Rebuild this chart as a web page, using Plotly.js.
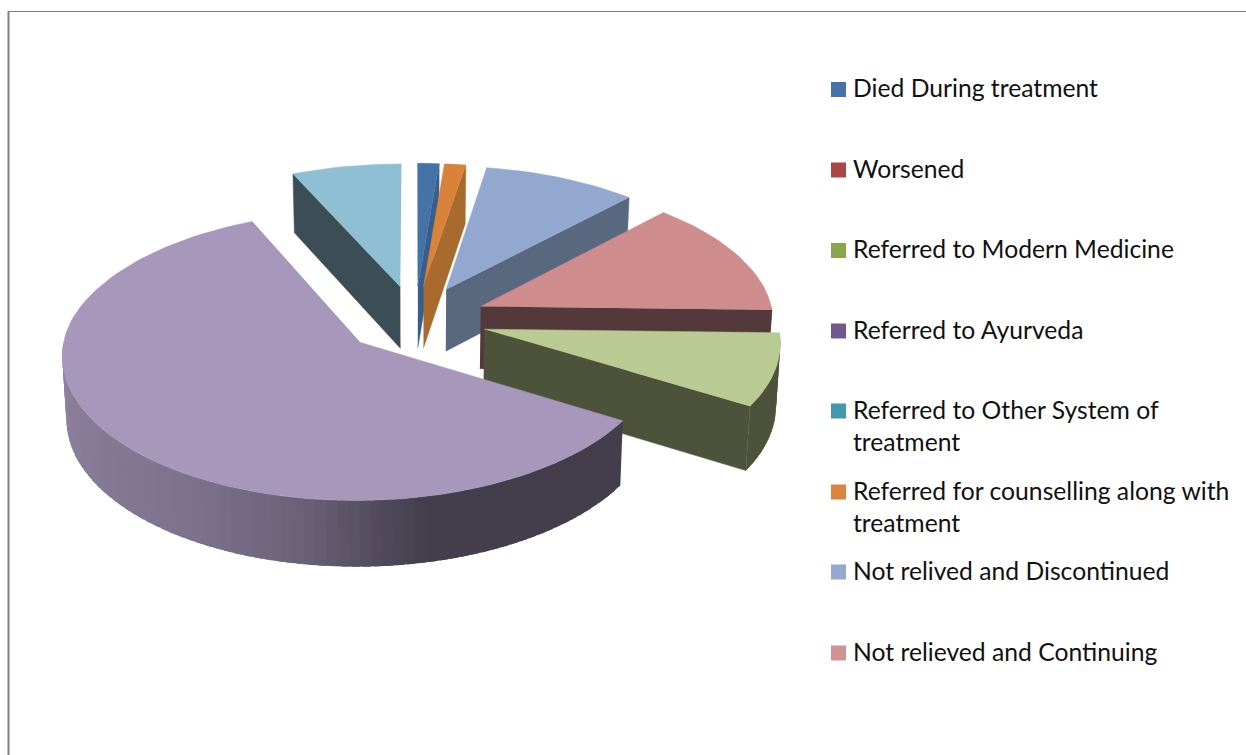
<!DOCTYPE html>
<html>
<head>
<meta charset="utf-8">
<script src="https://cdn.plot.ly/plotly-3.0.1.min.js"></script>
<style>html,body{margin:0;padding:0;background:#fff}</style>
</head>
<body>
<div id="chart" style="width:1246px;height:755px"></div>
<script>
// Data (percent of the pie, clockwise from 12 o'clock)
const categories = ["Died During treatment","Worsened","Referred to Modern Medicine","Referred to Ayurveda",
  "Referred to Other System of<br>treatment","Referred for counselling along with<br>treatment",
  "Not relived and Discontinued","Not relieved and Continuing","(off the picture 1)","(off the picture 2)","(off the picture 3)"];
const values = [1.3,0,0,0,0,1.3,9.4,13.4,8.3,59.6,6.7];
const topColors = ["#4572a7","#aa4643","#89a54e","#71588f","#4198af","#d9833a","#93a8cf","#ce8d8c","#b9cb92","#a697bb","#8fbfd2"];
const sideColors = ["#365e8e","#5a2e2d","#4c533a","#3f3350","#2a5560","#a96a2d","#58687f","#533939","#4c533a","#443e4c","#3c4e55"];
const legendCount = 8;
const legendMarkerColors = ["#4572a7","#aa4643","#89a54e","#71588f","#4198af","#db843d","#93a9cf","#d19392"];
const legendY = [89.5,170,250.5,331,411,492,572,653];
const labelY = [87.5,168.5,248.5,329.5,425.5,506.5,570.5,651.5];

// Projection settings
const cx=415, cy=319.5, a=293, b=139.5, k=0.09, kFront=0.08, depth=62.5, explode=0.245;
const wallStops=[[168,0],[190,0.40],[210,0.58],[270,0.77]];

function P(u,v,z){
  const s=1/(1+k*v), sx=1/(1+(v<0?kFront:k)*v);
  let x=cx+a*u*sx;
  const y=cy-b*v*s+z*depth*(1-0.05*v);
  x+=(cx-x)*0.012*z;
  return [x,y];
}
function hex(c){return [1,3,5].map(i=>parseInt(c.substr(i,2),16));}
function mix(c1,c2,f){const A=hex(c1),B=hex(c2);return "rgb("+A.map((v,i)=>Math.round(v+(B[i]-v)*f)).join(",")+")";}
function wallFrac(t){
  if(t<=wallStops[0][0])return 0;
  for(let i=1;i<wallStops.length;i++){
    if(t<=wallStops[i][0]){
      const p=wallStops[i-1],q=wallStops[i];
      return p[1]+(q[1]-p[1])*(t-p[0])/(q[0]-p[0]);
    }
  }
  return wallStops[wallStops.length-1][1];
}
const rad=d=>d*Math.PI/180;
const traces=[];
function poly(pts,color,name,w){
  traces.push({type:"scatter",mode:"lines",x:pts.map(p=>p[0]),y:pts.map(p=>p[1]),fill:"toself",fillcolor:color,
    line:{color:color,width:w},hoverinfo:"skip",showlegend:false,name:name});
}

const total=values.reduce((p,c)=>p+c,0);
let acc=0;
const slices=[];
values.forEach((val,i)=>{
  const start=acc/total*360; acc+=val; const end=acc/total*360;
  if(val>0) slices.push({i,start,end,mid:(start+end)/2});
});
slices.sort((p,q)=>Math.cos(rad(q.mid))-Math.cos(rad(p.mid)));

slices.forEach(sl=>{
  const top=topColors[sl.i],dark=sideColors[sl.i],name=categories[sl.i];
  const ou=explode*Math.sin(rad(sl.mid)),ov=explode*Math.cos(rad(sl.mid));
  const pt=(t,z,r=1)=>P(ou+r*Math.sin(rad(t)),ov+r*Math.cos(rad(t)),z);
  // cut faces
  if(Math.sin(rad(sl.start))<0) poly([pt(0,0,0),pt(sl.start,0),pt(sl.start,1),pt(0,1,0)],dark,name,0.5);
  if(Math.sin(rad(sl.end))>0) poly([pt(0,0,0),pt(sl.end,0),pt(sl.end,1),pt(0,1,0)],dark,name,0.5);
  // outer wall, only the part facing the viewer; each strip runs on under the next one
  const w0=Math.max(sl.start,90),w1=Math.min(sl.end,270);
  for(let t=w0;t<w1;t+=2){
    const t2=Math.min(t+2,w1),t3=Math.min(t+3.5,w1);
    const edge=[];
    for(let q=t;q<t3;q+=0.5) edge.push(pt(q,0));
    edge.push(pt(t3,0),pt(t3,1));
    for(let q=t3-0.5;q>t;q-=0.5) edge.push(pt(q,1));
    edge.push(pt(t,1));
    poly(edge,mix(dark,top,wallFrac((t+t2)/2)),name,0);
  }
  // top face
  const arc=[pt(0,0,0)];
  const steps=Math.max(4,Math.ceil((sl.end-sl.start)/2));
  for(let j=0;j<=steps;j++) arc.push(pt(sl.start+(sl.end-sl.start)*j/steps,0));
  poly(arc,top,name,0.5);
});

// Legend
traces.push({type:"scatter",mode:"markers",x:legendY.map(()=>838.5),y:legendY,
  marker:{symbol:"square",size:15,color:legendMarkerColors,line:{width:0}},hoverinfo:"skip",showlegend:false});
const annotations=categories.slice(0,legendCount).map((c,i)=>({
  x:853,y:labelY[i],xref:"x",yref:"y",xanchor:"left",yanchor:"middle",align:"left",text:c,showarrow:false,
  font:{family:"Lato, 'Open Sans', sans-serif",size:24.7,color:"#111"},borderpad:0,borderwidth:0
}));

const layout={
  width:1246,height:755,margin:{l:0,r:0,t:0,b:0},paper_bgcolor:"#fff",plot_bgcolor:"#fff",showlegend:false,
  xaxis:{range:[0,1246],visible:false,fixedrange:true},
  yaxis:{range:[755,0],visible:false,fixedrange:true},
  annotations,
  shapes:[
    {type:"line",xref:"x",yref:"y",x0:8.5,x1:8.5,y0:11,y1:755,line:{color:"#808080",width:2}},
    {type:"line",xref:"x",yref:"y",x0:8,x1:1246,y0:11.5,y1:11.5,line:{color:"#808080",width:1}}
  ]
};
Plotly.newPlot("chart",traces,layout,{displayModeBar:false,staticPlot:true});
</script>
</body>
</html>
